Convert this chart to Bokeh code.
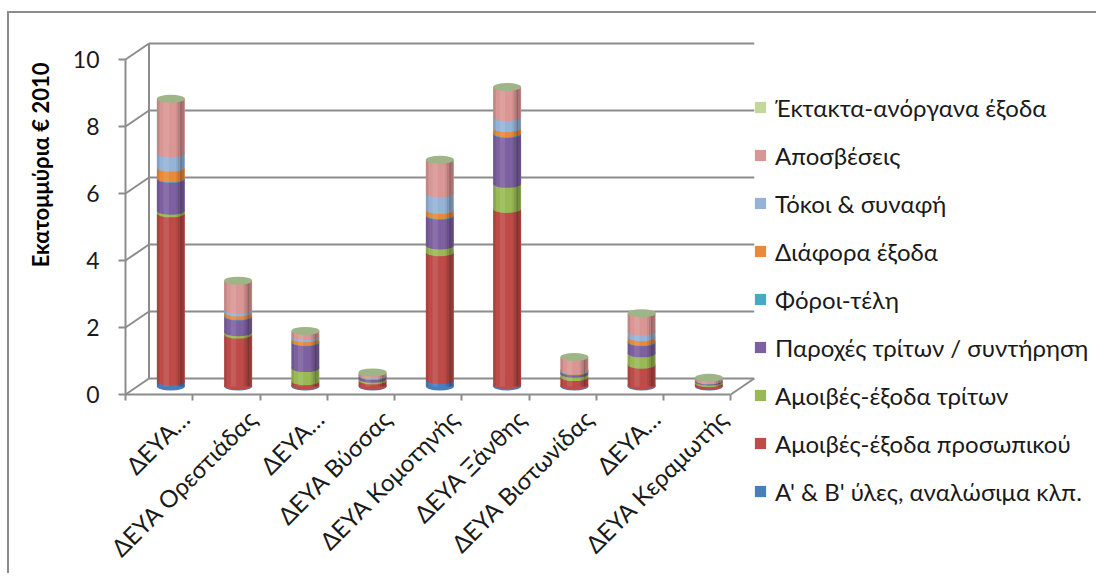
from math import pi
from bokeh.plotting import figure
from bokeh.models import Range1d, FixedTicker, Legend, LegendItem, Title
from bokeh.embed import file_html
from bokeh.resources import INLINE

# ---------------- data ----------------
categories = ["ΔΕΥΑ…", "ΔΕΥΑ Ορεστιάδας", "ΔΕΥΑ…", "ΔΕΥΑ Βύσσας", "ΔΕΥΑ Κομοτηνής",
              "ΔΕΥΑ Ξάνθης", "ΔΕΥΑ Βιστωνίδας", "ΔΕΥΑ…", "ΔΕΥΑ Κεραμωτής"]

series_names = ["Α' & Β' ύλες, αναλώσιμα κλπ.", "Αμοιβές-έξοδα προσωπικού",
                "Αμοιβές-έξοδα τρίτων", "Παροχές τρίτων / συντήρηση", "Φόροι-τέλη",
                "Διάφορα έξοδα", "Τόκοι & συναφή", "Αποσβέσεις", "Έκτακτα-ανόργανα έξοδα"]

materials     = [0.15, 0.02, 0.03, 0.02, 0.20, 0.05, 0.03, 0.03, 0.02]
staff         = [5.02, 1.53, 0.13, 0.16, 3.81, 5.25, 0.25, 0.62, 0.08]
third_party   = [0.08, 0.07, 0.39, 0.05, 0.20, 0.75, 0.10, 0.34, 0.05]
services      = [0.95, 0.47, 0.77, 0.08, 0.89, 1.49, 0.07, 0.33, 0.03]
taxes         = [0.02, 0.02, 0.02, 0.01, 0.02, 0.02, 0.01, 0.02, 0.01]
misc          = [0.31, 0.10, 0.10, 0.02, 0.15, 0.15, 0.02, 0.13, 0.01]
interest      = [0.43, 0.08, 0.07, 0.02, 0.50, 0.33, 0.02, 0.17, 0.01]
depreciation  = [1.63, 0.87, 0.15, 0.06, 1.00, 0.90, 0.38, 0.55, 0.05]
extraordinary = [0.00, 0.00, 0.00, 0.00, 0.00, 0.00, 0.00, 0.00, 0.00]

series_values = [materials, staff, third_party, services, taxes, misc,
                 interest, depreciation, extraordinary]
colors = ["#4a7ebb", "#be4b48", "#98b954", "#7d60a0", "#46aac5", "#e8893c",
          "#95b3d7", "#d99694", "#c3d69b"]
cap_color = "#9fb587"

y_ticks = [0, 2, 4, 6, 8, 10]
y_label = "Εκατομμύρια € 2010"

# ---------------- geometry (pixels) ----------------
W, H = 1089, 562
LEFT, TOP = 53, 27    # frame left / top on the canvas
AXIS_X = 116          # canvas x of the front value axis
ZERO = 381            # canvas y of the value 0 on the front plane
PX_X = 67.25          # pixels per category
PX_Y = 33.5           # pixels per unit
XS = -(AXIS_X - LEFT) / PX_X
XE = (W - AXIS_X) / PX_X
YE = (ZERO - TOP) / PX_Y
YS = -(H - ZERO) / PX_Y
DX = 23.5 / PX_X      # depth shift (back wall)
DY = 16.0 / PX_Y
BAR_W = 28 / PX_X
FONT = "Lato"
GRID = "#8c8c8c"
TXT = "#1a1a1a"

p = figure(width=W, height=H, output_backend="svg", toolbar_location=None,
           x_range=Range1d(XS, XE), y_range=Range1d(YS, YE),
           min_border_left=LEFT, min_border_top=TOP, min_border_bottom=0,
           min_border_right=0, outline_line_color=None, tools="")
p.grid.visible = False
p.margin = (11, 0, 0, 7)
p.styles = {"border-left": "2px solid #8c8c8c", "border-top": "2px solid #8c8c8c"}

p.extra_x_ranges = {"back": Range1d(XS - DX, XE - DX), "mid": Range1d(XS - DX / 2, XE - DX / 2)}
p.extra_y_ranges = {"back": Range1d(YS - DY, YE - DY), "mid": Range1d(YS - DY / 2, YE - DY / 2)}

n = len(categories)

# back wall gridlines and left wall edge
p.segment(x0=[0] * len(y_ticks), x1=[n] * len(y_ticks), y0=y_ticks, y1=y_ticks,
          x_range_name="back", y_range_name="back", line_color=GRID, line_width=2)
p.segment(x0=[0], x1=[0], y0=[0], y1=[y_ticks[-1]], x_range_name="back",
          y_range_name="back", line_color=GRID, line_width=2)
# side-wall diagonals (front axis ticks -> back wall)
p.segment(x0=[0] * len(y_ticks), x1=[DX] * len(y_ticks), y0=y_ticks,
          y1=[t + DY for t in y_ticks], line_color=GRID, line_width=2)
# floor right diagonal
p.segment(x0=[n], x1=[n + DX], y0=[0], y1=[DY], line_color=GRID, line_width=2)

# stacked cylinders
centers = [i + 0.5 for i in range(n)]
cum = [0.0] * n
legend_items = []
for name, vals, col in zip(series_names, series_values, colors):
    bottoms = cum[:]
    tops = [b + v for b, v in zip(bottoms, vals)]
    r = p.vbar(x=centers, width=BAR_W, bottom=bottoms, top=tops, fill_color=col,
               line_color=None, x_range_name="mid", y_range_name="mid")
    ex = [c for c, v in zip(centers, vals) if v > 0]
    ey = [b for b, v in zip(bottoms, vals) if v > 0]
    if ex:
        p.ellipse(x=ex, y=ey, width=BAR_W, height=8, height_units="screen",
                  fill_color=col, line_color=None, x_range_name="mid", y_range_name="mid")
    legend_items.append(LegendItem(label=name, renderers=[r]))
    cum = tops

# cylinder shading strips
shade = [(0.17, 0.06, 0.22), (0.135, 0.05, 0.14), (0.10, 0.04, 0.07), (-0.19, 0.04, 0.10)]
for off, w, a in shade:
    p.vbar(x=[c + off * BAR_W / 0.416 for c in centers], width=w * BAR_W / 0.416,
           bottom=[0] * n, top=cum, fill_color="black", fill_alpha=a, line_color=None,
           x_range_name="mid", y_range_name="mid")
p.vbar(x=[c - 0.07 for c in centers], width=0.08, bottom=[0] * n, top=cum,
       fill_color="white", fill_alpha=0.10, line_color=None,
       x_range_name="mid", y_range_name="mid")

# top caps
p.ellipse(x=centers, y=cum, width=BAR_W, height=8, height_units="screen",
          fill_color=cap_color, line_color=None, x_range_name="mid", y_range_name="mid")

# ---------------- axes ----------------
ya = p.yaxis[0]
ya.fixed_location = 0
ya.ticker = FixedTicker(ticks=y_ticks)
ya.bounds = (0, y_ticks[-1])
ya.axis_line_color = GRID
ya.axis_line_width = 2
ya.major_tick_line_color = GRID
ya.major_tick_line_width = 2
ya.major_tick_out = 7
ya.major_tick_in = 0
ya.minor_tick_line_color = None
ya.major_label_standoff = 19
ya.major_label_text_font = FONT
ya.major_label_text_font_size = "23px"
ya.major_label_text_color = TXT

p.add_layout(Title(text=y_label, align="right", offset=22, vertical_align="middle",
                   text_font=FONT, text_font_size="22px", text_font_style="bold",
                   text_color="#000000", standoff=15), "left")

label_pos = [c + 0.38 for c in centers]
xa = p.xaxis[0]
xa.fixed_location = 0
xa.ticker = FixedTicker(ticks=label_pos, minor_ticks=list(range(n + 1)))
xa.bounds = (0, n)
xa.major_label_overrides = {pos: lab for pos, lab in zip(label_pos, categories)}
xa.major_label_orientation = pi / 4
xa.axis_line_color = GRID
xa.axis_line_width = 2
xa.major_tick_line_color = None
xa.major_tick_out = 6
xa.major_tick_in = 0
xa.minor_tick_line_color = GRID
xa.minor_tick_line_width = 2
xa.minor_tick_out = 6
xa.minor_tick_in = 0
xa.major_label_standoff = 14
xa.major_label_text_font = FONT
xa.major_label_text_font_size = "24px"
xa.major_label_text_color = TXT

# ---------------- legend ----------------
legend = Legend(items=list(reversed(legend_items)), location=(628 + AXIS_X - LEFT, 69),
                orientation="vertical", padding=0, margin=0, spacing=18,
                glyph_width=14, glyph_height=14, label_height=30, label_standoff=8,
                label_text_font=FONT, label_text_font_size="24px",
                label_text_color=TXT, border_line_color=None,
                background_fill_alpha=0)
p.add_layout(legend, "center")

open("out.html", "w").write(file_html(p, INLINE))
